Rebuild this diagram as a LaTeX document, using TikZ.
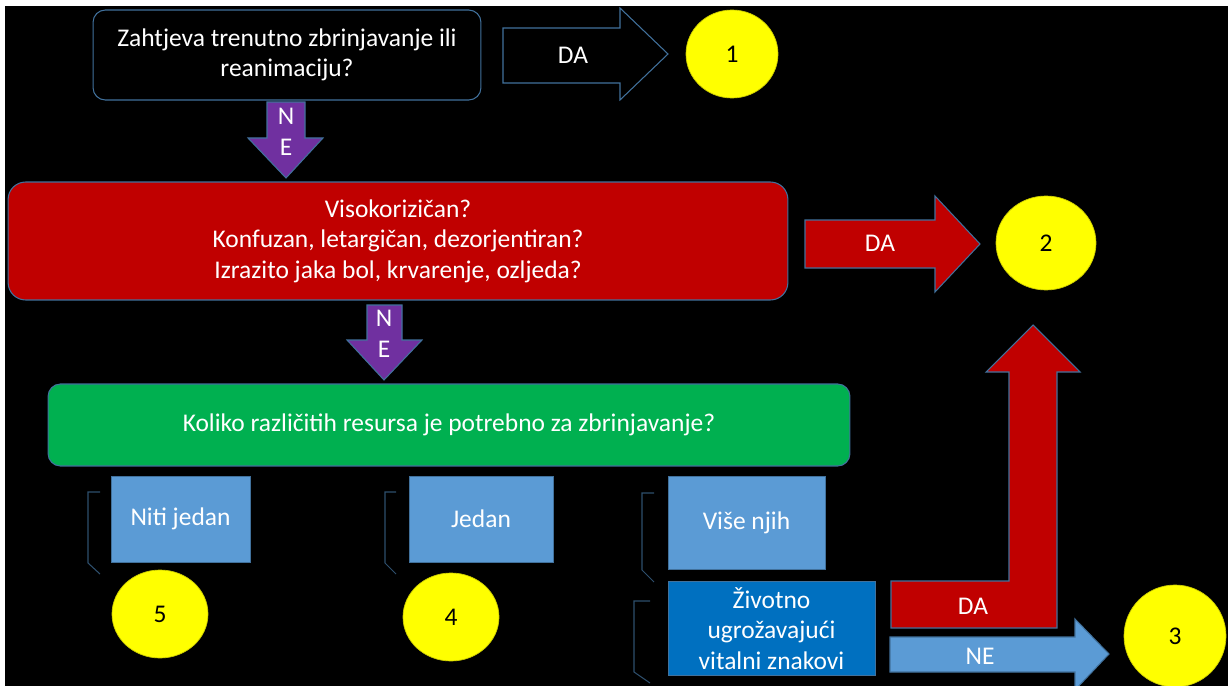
\documentclass[tikz,border=0pt]{standalone}
\usepackage{fontspec}
\setmainfont{Carlito}
\usetikzlibrary{shapes.geometric}
\definecolor{edgeblue}{HTML}{41719C}
\definecolor{boxred}{HTML}{C00000}
\definecolor{boxgreen}{HTML}{00B050}
\definecolor{boxpurple}{HTML}{7030A0}
\definecolor{lightblue}{HTML}{5B9BD5}
\definecolor{darkblue}{HTML}{0070C0}
\definecolor{numyellow}{HTML}{FFFF00}
\begin{document}
\begin{tikzpicture}
  [x=0.02cm,y=-0.02cm,
   every node/.style={text=white,align=center,font=\fontsize{14.5}{17.3}\selectfont},
   question/.style={rectangle,rounded corners=7pt,draw=edgeblue,line width=0.6pt},
   answer/.style={rectangle,draw=edgeblue,line width=0.4pt},
   num/.style={ellipse,fill=numyellow,draw=numyellow!80!black,line width=0.4pt,text=black},
   blockarrow/.style={draw=edgeblue,line width=0.6pt,line join=miter},
   bracket/.style={draw=edgeblue!70!black,line width=0.6pt}]
  \useasboundingbox (0,0) rectangle (1228,686);
  \fill[white] (0,0) rectangle (1228,686);
  \fill[black] (5,6) rectangle (1228,686);
  % questions
  \node (q1)[question,fill=black,minimum width=7.76cm,minimum height=1.8cm] at (287,55)
    {Zahtjeva trenutno zbrinjavanje ili\\reanimaciju?};
  \node (q2)[question,fill=boxred,rounded corners=10pt,minimum width=15.6cm,minimum height=2.36cm] at (398,241)
    {Visokorizičan?\\Konfuzan, letargičan, dezorjentiran?\\Izrazito jaka bol, krvarenje, ozljeda?};
  \node (q3)[question,fill=boxgreen,minimum width=16.04cm,minimum height=1.64cm] at (449,425)
    {Koliko različitih resursa je potrebno za zbrinjavanje?};
  % answers
  \node (a0)[answer,fill=lightblue,minimum width=2.78cm,minimum height=1.72cm] at (180.5,519) {Niti jedan};
  \node (a1)[answer,fill=lightblue,minimum width=2.88cm,minimum height=1.72cm] at (481,519) {Jedan};
  \node (a2)[answer,fill=lightblue,minimum width=3.14cm,minimum height=1.86cm] at (746.5,522.5) {Više njih};
  \node (vit)[answer,fill=darkblue,minimum width=4.14cm,minimum height=1.74cm] at (771.5,628.5)
    {Životno\\ugrožavajući\\vitalni znakovi};
  % triage levels
  \node (l1)[num,minimum width=1.84cm,minimum height=1.76cm] at (732,54) {1};
  \node (l2)[num,minimum width=2cm,minimum height=1.88cm] at (1046,243) {2};
  \node (l3)[num,minimum width=2.04cm,minimum height=2.04cm] at (1175,636) {3};
  \node (l4)[num,minimum width=1.92cm,minimum height=1.76cm] at (451,617) {4};
  \node (l5)[num,minimum width=1.92cm,minimum height=1.76cm] at (160,614) {5};
  % block arrows
  \path[blockarrow,fill=black] (503,28) -- (620,28) -- (620,8) -- (668,54) -- (620,100) -- (620,83) -- (503,83) -- cycle;
  \path[blockarrow,fill=boxpurple] (267,102) -- (305,102) -- (305,138) -- (323,138) -- (286,178) -- (248,138) -- (267,138) -- cycle;
  \path[blockarrow,fill=boxred] (805,220) -- (935,220) -- (935,196) -- (980,244) -- (935,292) -- (935,268) -- (805,268) -- cycle;
  \path[blockarrow,fill=boxpurple] (367,305) -- (402,305) -- (402,340) -- (422,340) -- (384,380) -- (347,340) -- (367,340) -- cycle;
  \path[blockarrow,fill=boxred] (891,581) -- (1009,581) -- (1009,372) -- (986,372) -- (1033,325) -- (1080,372)
    -- (1057,372) -- (1057,628) -- (891,628) -- cycle;
  \path[blockarrow,fill=lightblue] (890,637) -- (1075,637) -- (1075,619) -- (1109,654) -- (1075,690) -- (1075,672)
    -- (890,672) -- cycle;
  \node (da1) at (573,55) {DA};
  \node (ne1) at (286,132) {N\\E};
  \node (da2) at (880,243) {DA};
  \node (ne2) at (384,334) {N\\E};
  \node (da3) at (973,606) {DA};
  \node (ne3) at (980,656) {NE};
  % brackets
  \foreach \xa/\xb/\ya/\yb/\yc in {100/88/492/563/574,396/385/492/563/574,654/642/493/570/582,650/634/601/672/683}
    \draw[bracket] (\xa,\ya) -- (\xb,\ya) -- (\xb,\yb) -- (\xa,\yc);
\end{tikzpicture}
\end{document}
